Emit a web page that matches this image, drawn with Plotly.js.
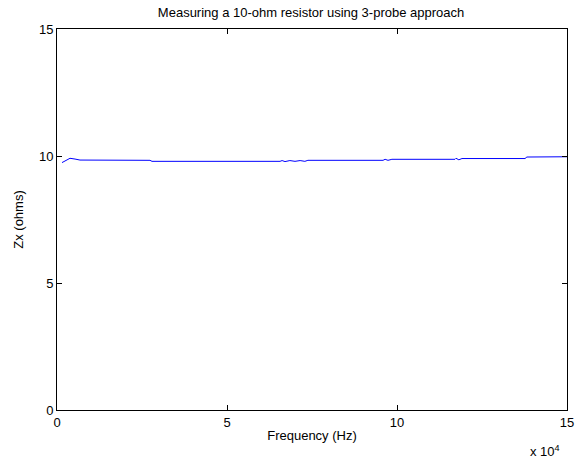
<!DOCTYPE html>
<html><head><meta charset="utf-8">
<script src="https://cdn.plot.ly/plotly-3.0.1.min.js"></script>
<style>html,body{margin:0;padding:0;background:#fff}</style>
</head><body>
<div id="chart" style="width:576px;height:459px"></div>
<script>
const freqHz = [1470, 2650, 3820, 5300, 6760, 27350, 27940, 65600, 66200, 67060, 68500, 70000, 71500, 72900, 73800, 95900, 96500, 97350, 98500, 117050, 117350, 118200, 119100, 137650, 138200, 150000];
const zxOhms = [9.74, 9.84, 9.91, 9.88, 9.84, 9.83, 9.79, 9.79, 9.82, 9.78, 9.82, 9.79, 9.82, 9.79, 9.83, 9.83, 9.87, 9.83, 9.87, 9.87, 9.91, 9.85, 9.90, 9.90, 9.96, 9.97];
const xTickVals = [0, 50000, 100000, 150000];
const xTickText = ['0', '5', '10', '15'];
const yTickVals = [0, 5, 10, 15];

const font = {family: 'Liberation Sans, Arial, sans-serif', size: 13, color: '#000'};
Plotly.newPlot('chart', [{
  x: freqHz, y: zxOhms, type: 'scatter', mode: 'lines',
  line: {color: '#0000ff', width: 1}
}], {
  width: 576, height: 459,
  margin: {l: 57, r: 9, t: 29, b: 49},
  paper_bgcolor: '#fff', plot_bgcolor: '#fff',
  font: font,
  showlegend: false,
  title: {text: 'Measuring a 10-ohm resistor using 3-probe approach', font: font, x: 0.54, xanchor: 'center', y: 0.973, yanchor: 'middle'},
  xaxis: {
    range: [0, 150000], tickvals: xTickVals, ticktext: xTickText,
    showgrid: false, zeroline: false, showline: true, linecolor: '#000', linewidth: 1,
    mirror: 'ticks', ticks: 'inside', ticklen: 5, tickcolor: '#000',
    title: {text: 'Frequency (Hz)', font: font, standoff: 2}
  },
  yaxis: {
    range: [0, 15], tickvals: yTickVals,
    showgrid: false, zeroline: false, showline: true, linecolor: '#000', linewidth: 1,
    mirror: 'ticks', ticks: 'inside', ticklen: 5, tickcolor: '#000',
    title: {text: 'Zx (ohms)', font: font, standoff: 12}
  },
  annotations: [{
    text: 'x 10<sup>4</sup>', xref: 'paper', yref: 'paper', x: 0.99, y: -0.108,
    xanchor: 'right', yanchor: 'middle', showarrow: false, font: font
  }]
}, {displayModeBar: false, staticPlot: true});
</script>
</body></html>
